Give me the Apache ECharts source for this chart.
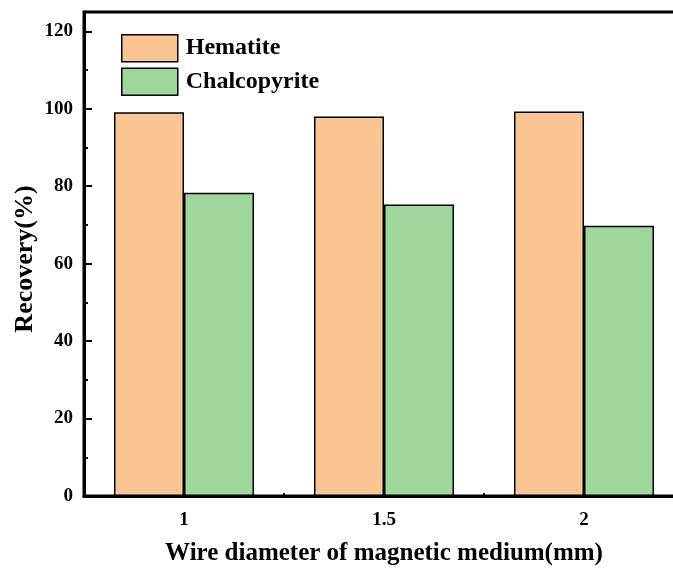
<!DOCTYPE html>
<html>
<head>
<meta charset="utf-8">
<script src="https://cdn.jsdelivr.net/npm/echarts@6/dist/echarts.min.js"></script>
<style>html,body{margin:0;padding:0;background:#fff;overflow:hidden;}#c{width:673px;height:568px;}</style>
</head>
<body>
<div id="c"></div>
<script>
const categories = ['1', '1.5', '2'];
const hematite = [99.1, 98.0, 99.3];
const chalcopyrite = [78.3, 75.3, 69.8];
const seriesNames = ['Hematite', 'Chalcopyrite'];
const xTitle = 'Wire diameter of magnetic medium(mm)';
const yTitle = 'Recovery(%)';

const FONT = '"Liberation Serif", "Times New Roman", serif';
const chart = echarts.init(document.getElementById('c'), null, {renderer: 'canvas'});
chart.setOption({
  animation: false,
  backgroundColor: '#fff',
  grid: {left: 84, right: -11, top: 12, bottom: 72, outerBoundsMode: 'none', containLabel: false,
         show: true, borderColor: '#000', borderWidth: 3, backgroundColor: 'transparent'},
  legend: {
    orient: 'vertical', left: 116, top: 29, itemWidth: 56, itemHeight: 27, itemGap: 5,
    icon: 'rect',
    textStyle: {fontFamily: FONT, fontWeight: 'bold', fontSize: 24, color: '#000', padding: [0, 0, 0, 3]},
    data: seriesNames,
    itemStyle: {borderColor: '#000', borderWidth: 1.5}
  },
  xAxis: [{
    type: 'category', data: categories, position: 'bottom',
    axisLine: {lineStyle: {color: '#000', width: 3}},
    axisTick: {show: true, inside: true, alignWithLabel: true, length: 4, lineStyle: {color: '#000', width: 2}},
    axisLabel: {fontFamily: FONT, fontWeight: 'bold', fontSize: 19, color: '#000', margin: 15},
    name: xTitle, nameLocation: 'middle', nameGap: 45,
    nameTextStyle: {fontFamily: FONT, fontWeight: 'bold', fontSize: 25, color: '#000'}
  }, {
    type: 'category', data: categories, position: 'bottom',
    axisLine: {show: false},
    axisTick: {show: true, inside: true, alignWithLabel: false, length: 3, lineStyle: {color: '#000', width: 2}},
    axisLabel: {show: false}
  }],
  yAxis: [{
    type: 'value', min: 0, max: 125, interval: 20, position: 'left',
    axisLine: {show: true, lineStyle: {color: '#000', width: 3}},
    axisTick: {show: true, inside: true, length: 8, lineStyle: {color: '#000', width: 2}},
    axisLabel: {fontFamily: FONT, fontWeight: 'bold', fontSize: 19, color: '#000', margin: 11, showMaxLabel: false},
    splitLine: {show: false},
    name: yTitle, nameLocation: 'middle', nameGap: 46, nameRotate: 90, nameMoveOverlap: false,
    nameTextStyle: {fontFamily: FONT, fontWeight: 'bold', fontSize: 26, color: '#000', padding: [0, 10, 0, 0]}
  }, {
    type: 'value', min: 0, max: 125, interval: 10, position: 'left',
    axisLine: {show: false},
    axisTick: {show: true, inside: true, length: 4, lineStyle: {color: '#000', width: 2}},
    axisLabel: {show: false},
    splitLine: {show: false}
  }],
  series: [{
    name: seriesNames[0], type: 'bar', data: hematite, barWidth: '35%', barGap: '0%',
    itemStyle: {color: '#FAC493', borderColor: '#000', borderWidth: 1.5}
  }, {
    name: seriesNames[1], type: 'bar', data: chalcopyrite, barWidth: '35%', barGap: '0%',
    itemStyle: {color: '#9ED69B', borderColor: '#000', borderWidth: 1.5}
  }]
});
</script>
</body>
</html>
